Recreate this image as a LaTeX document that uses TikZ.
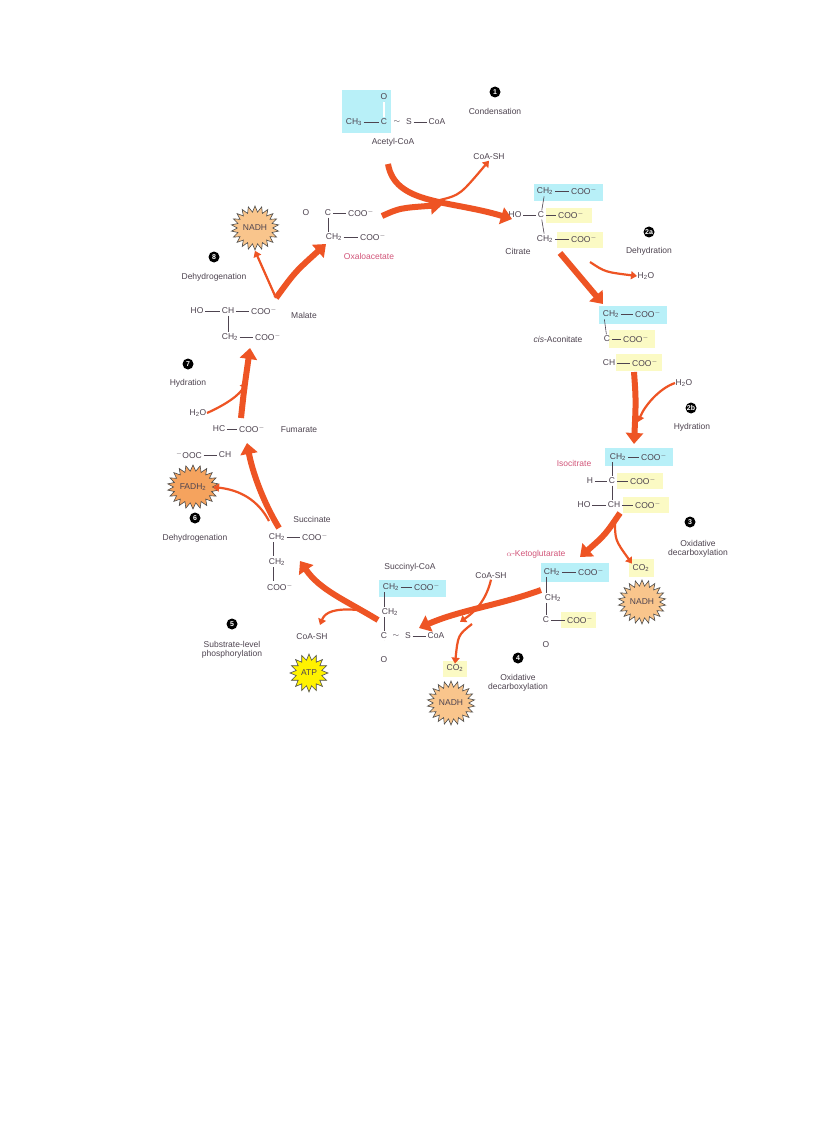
\documentclass[tikz,border=0pt]{standalone}
\usepackage{fontspec}
\setmainfont{Liberation Sans}
\usetikzlibrary{arrows.meta,shapes.symbols}
\definecolor{txtc}{HTML}{4E4450}
\definecolor{arrc}{HTML}{EE5424}
\definecolor{cyanc}{HTML}{B8F0F8}
\definecolor{yelc}{HTML}{FBFAC4}
\definecolor{nadhc}{HTML}{F9C58C}
\definecolor{fadc}{HTML}{F5A35E}
\definecolor{pinkc}{HTML}{D2567A}
\newcommand\coo{COO\textsuperscript{$-$}}
\tikzset{
  txt/.style={font=\fontsize{8.5}{9}\selectfont, text=txtc, inner sep=0.5pt},
  num/.style={circle, fill=black, text=white, font=\fontsize{7}{7}\selectfont\bfseries, inner sep=0pt, minimum size=11pt},
  bond/.style={draw=txtc, line width=0.6pt, shorten <=1pt, shorten >=1pt},
  dbond/.style={bond, double=white, double distance=1.3pt, line width=0.5pt},
  bigarr/.style={draw=arrc, line width=6pt, -{Triangle[length=11pt,width=17pt]}},
  smallarr/.style={draw=arrc, line width=2.2pt, -{Triangle[length=6pt,width=8pt]}},
  burst/.style={starburst, starburst points=22, starburst point height=6pt, random starburst=0, draw=black!70, line width=0.6pt, minimum size=44pt, inner sep=0pt, txt}
}
\begin{document}
\begin{tikzpicture}[x=1pt,y=-1pt]
\useasboundingbox[fill=white] (0,0) rectangle (816,1123);

% highlight boxes
\fill[cyanc] (342,90) rectangle (391,133);
\fill[cyanc] (534,184) rectangle (603,201);
\fill[yelc] (546,208) rectangle (592,223);
\fill[yelc] (557,232) rectangle (603,248);
\fill[cyanc] (599,306) rectangle (667,324);
\fill[yelc] (609,330) rectangle (655,348);
\fill[yelc] (616,354) rectangle (662,371);
\fill[cyanc] (605,448) rectangle (673,466);
\fill[yelc] (617,473) rectangle (663,489);
\fill[yelc] (623,497) rectangle (669,513);
\fill[yelc] (629,559) rectangle (654,577);
\fill[cyanc] (541,563) rectangle (609,582);
\fill[yelc] (561,612) rectangle (596,628);
\fill[cyanc] (379,580) rectangle (446,597);
\fill[yelc] (443,661) rectangle (467,677);

% step numbers and names
\node[num] (n1) at (495,92) {1};
\node[txt] (t1) at (495,111) {Condensation};
\node[num] (n2a) at (649,232) {2a};
\node[txt] (t2a) at (649,251) {Dehydration};
\node[num] (n2b) at (691,408) {2b};
\node[txt] (t2b) at (692,427) {Hydration};
\node[num] (n3) at (690,522) {3};
\node[txt, align=center] (t3) at (698,549) {Oxidative\\decarboxylation};
\node[num] (n4) at (518,658) {4};
\node[txt, align=center] (t4) at (518,683) {Oxidative\\decarboxylation};
\node[num] (n5) at (232,624) {5};
\node[txt, align=center] (t5) at (232,650) {Substrate-level\\phosphorylation};
\node[num] (n6) at (195,518) {6};
\node[txt] (t6) at (195,538) {Dehydrogenation};
\node[num] (n7) at (188,364) {7};
\node[txt] (t7) at (188,383) {Hydration};
\node[num] (n8) at (214,257) {8};
\node[txt] (t8) at (214,277) {Dehydrogenation};

% acetyl-CoA
\node[txt] (acO) at (384,97) {O};
\node[txt] (acCH) at (354,122) {CH\textsubscript{3}};
\node[txt] (acC) at (384,122) {C};
\node[txt] (acT) at (397,122) {$\sim$};
\node[txt] (acS) at (409,122) {S};
\node[txt] (acCoA) at (437,122) {CoA};
\node[txt] (acL) at (393,142) {Acetyl-CoA};
\draw[dbond] (acO) -- (acC);
\draw[bond] (acCH) -- (acC);
\draw[bond] (acS) -- (acCoA);
\node[txt] (coa1) at (489,157) {CoA-SH};

% citrate
\node[txt] (ciA) at (545,191) {CH\textsubscript{2}};
\node[txt] (ciB) at (584,191) {\coo};
\node[txt] (ciHO) at (515,215) {HO};
\node[txt] (ciC) at (541,215) {C};
\node[txt] (ciD) at (571,215) {\coo};
\node[txt] (ciE) at (545,239) {CH\textsubscript{2}};
\node[txt] (ciF) at (584,239) {\coo};
\node[txt] (ciL) at (518,251) {Citrate};
\draw[bond] (ciA) -- (ciB); \draw[bond] (ciHO) -- (ciC); \draw[bond] (ciC) -- (ciD);
\draw[bond] (ciE) -- (ciF); \draw[bond] (ciA) -- (ciC); \draw[bond] (ciC) -- (ciE);
\node[txt] (w1) at (646,276) {H\textsubscript{2}O};

% cis-aconitate
\node[txt] (caA) at (611,314) {CH\textsubscript{2}};
\node[txt] (caB) at (648,314) {\coo};
\node[txt] (caC) at (607,339) {C};
\node[txt] (caD) at (636,339) {\coo};
\node[txt] (caE) at (609,363) {CH};
\node[txt] (caF) at (645,363) {\coo};
\node[txt] (caL) at (558,339) {\textit{cis}-Aconitate};
\draw[bond] (caA) -- (caB); \draw[bond] (caC) -- (caD); \draw[bond] (caE) -- (caF);
\draw[bond] (caA.south west) ++(2,0) -- (caC);
\draw[dbond] (caC) -- (caE.north west -| caC);
\node[txt] (w2) at (684,383) {H\textsubscript{2}O};

% isocitrate
\node[txt] (icA) at (618,457) {CH\textsubscript{2}};
\node[txt] (icB) at (654,457) {\coo};
\node[txt] (icH) at (590,481) {H};
\node[txt] (icC) at (612,481) {C};
\node[txt] (icD) at (643,481) {\coo};
\node[txt] (icHO) at (584,505) {HO};
\node[txt] (icE) at (614,505) {CH};
\node[txt] (icF) at (648,505) {\coo};
\node[txt, text=pinkc] (icL) at (574,463) {Isocitrate};
\draw[bond] (icA) -- (icB); \draw[bond] (icH) -- (icC); \draw[bond] (icC) -- (icD);
\draw[bond] (icHO) -- (icE); \draw[bond] (icE) -- (icF);
\draw[bond] (icC |- icA.south) -- (icC); \draw[bond] (icC) -- (icC |- icE.north);

% CO2 / NADH step 3
\node[txt] (co1) at (641,568) {CO\textsubscript{2}};
\node[burst, fill=nadhc] (nadh3) at (642,602) {NADH};

% alpha-ketoglutarate
\node[txt, text=pinkc] (kgL) at (536,554) {$\alpha$-Ketoglutarate};
\node[txt] (kgA) at (552,572) {CH\textsubscript{2}};
\node[txt] (kgB) at (591,572) {\coo};
\node[txt] (kgC) at (553,598) {CH\textsubscript{2}};
\node[txt] (kgD) at (546,620) {C};
\node[txt] (kgE) at (580,620) {\coo};
\node[txt] (kgO) at (546,645) {O};
\draw[bond] (kgA) -- (kgB); \draw[bond] (kgD) -- (kgE);
\draw[bond] (kgD |- kgA.south) -- (kgD |- kgC.north);
\draw[bond] (kgD |- kgC.south) -- (kgD);
\draw[dbond] (kgD) -- (kgO);

% step 4 side products
\node[txt] (coa2) at (491,576) {CoA-SH};
\node[txt] (co2) at (455,668) {CO\textsubscript{2}};
\node[burst, fill=nadhc] (nadh4) at (451,703) {NADH};

% succinyl-CoA
\node[txt] (scL) at (410,567) {Succinyl-CoA};
\node[txt] (scA) at (391,587) {CH\textsubscript{2}};
\node[txt] (scB) at (427,587) {\coo};
\node[txt] (scC) at (390,612) {CH\textsubscript{2}};
\node[txt] (scD) at (384,636) {C};
\node[txt] (scT) at (396,636) {$\sim$};
\node[txt] (scS) at (408,636) {S};
\node[txt] (scCoA) at (436,636) {CoA};
\node[txt] (scO) at (384,660) {O};
\draw[bond] (scA) -- (scB); \draw[bond] (scS) -- (scCoA);
\draw[bond] (scD |- scA.south) -- (scD |- scC.north);
\draw[bond] (scD |- scC.south) -- (scD);
\draw[dbond] (scD) -- (scO);

% step 5 side products
\node[txt] (coa3) at (312,637) {CoA-SH};
\node[burst, fill=yellow, minimum size=38pt, starburst points=16] (atp) at (309,673) {ATP};

% succinate
\node[txt] (suL) at (312,519) {Succinate};
\node[txt] (suA) at (277,537) {CH\textsubscript{2}};
\node[txt] (suB) at (315,537) {\coo};
\node[txt] (suC) at (277,562) {CH\textsubscript{2}};
\node[txt] (suD) at (280,587) {\coo};
\draw[bond] (suA) -- (suB);
\draw[bond] (suA.south west) ++(5,0) -- ++(0,16);
\draw[bond] (suC.south west) ++(5,0) -- ++(0,16);
\node[burst, fill=fadc] (fad) at (193,487) {FADH\textsubscript{2}};

% fumarate
\node[txt] (fuA) at (219,429) {HC};
\node[txt] (fuB) at (252,429) {\coo};
\node[txt] (fuC) at (189,455) {\textsuperscript{$-$}OOC};
\node[txt] (fuD) at (225,455) {CH};
\node[txt] (fuL) at (299,430) {Fumarate};
\draw[bond] (fuA) -- (fuB); \draw[bond] (fuC) -- (fuD);
\draw[dbond] (fuA) -- (fuA |- fuD.north);
\node[txt] (w3) at (198,413) {H\textsubscript{2}O};

% malate
\node[txt] (maHO) at (197,311) {HO};
\node[txt] (maA) at (228,311) {CH};
\node[txt] (maB) at (264,311) {\coo};
\node[txt] (maC) at (230,337) {CH\textsubscript{2}};
\node[txt] (maD) at (268,337) {\coo};
\node[txt] (maL) at (304,315) {Malate};
\draw[bond] (maHO) -- (maA); \draw[bond] (maA) -- (maB); \draw[bond] (maC) -- (maD);
\draw[bond] (maA) -- (maA |- maC.north);

% oxaloacetate
\node[txt] (oxO) at (306,213) {O};
\node[txt] (oxC) at (328,213) {C};
\node[txt] (oxB) at (361,213) {\coo};
\node[txt] (oxD) at (334,237) {CH\textsubscript{2}};
\node[txt] (oxE) at (373,237) {\coo};
\node[txt, text=pinkc] (oxL) at (369,256) {Oxaloacetate};
\draw[dbond] (oxO) -- (oxC); \draw[bond] (oxC) -- (oxB); \draw[bond] (oxD) -- (oxE);
\draw[bond] (oxC) -- (oxC |- oxD.north);
\node[burst, fill=nadhc] (nadh8) at (255,228) {NADH};

% arrows of the cycle
\coordinate (a1s) at (388,164);
\coordinate (a1e) at (512,219);
\coordinate (a0s) at (382,216);
\coordinate (a0e) at (442,205);
\draw[bigarr] (a0s) .. controls (400,208) .. (a0e);
\draw[bigarr] (a1s) .. controls (395,205) and (450,200) .. (a1e);
\draw[smallarr] (440,200) .. controls (460,195) .. (coa1.south);
\draw[bigarr] (560,253) -- (603,304);
\draw[smallarr] (590,262) .. controls (605,272) .. (w1.west);
\draw[bigarr] (634,372) .. controls (636,400) .. (634,444);
\draw[smallarr] (w2.west) .. controls (660,388) and (645,405) .. (638,422);
\draw[bigarr] (620,513) .. controls (605,535) .. (580,557);
\draw[smallarr] (615,520) .. controls (615,540) .. (co1.north west);
\draw[bigarr] (541,590) .. controls (500,605) and (460,610) .. (419,628);
\draw[smallarr] (coa2.south) .. controls (485,605) and (470,615) .. (460,622);
\draw[smallarr] (472,624) .. controls (458,635) .. (co2.north);
\draw[bigarr] (378,620) .. controls (345,600) and (320,590) .. (300,561);
\draw[smallarr] (358,610) .. controls (335,608) and (325,612) .. (320,625);
\draw[bigarr] (279,528) .. controls (262,500) and (252,470) .. (247,443);
\draw[smallarr] (269,521) .. controls (258,500) and (240,490) .. (fad.east);
\draw[bigarr] (241,418) .. controls (244,390) .. (250,348);
\draw[smallarr] (w3.east) .. controls (225,405) and (240,395) .. (246,382);
\draw[bigarr] (276,298) .. controls (295,272) .. (326,244);
\draw[smallarr] (276,298) .. controls (268,280) .. (nadh8.south);
\end{tikzpicture}
\end{document}
